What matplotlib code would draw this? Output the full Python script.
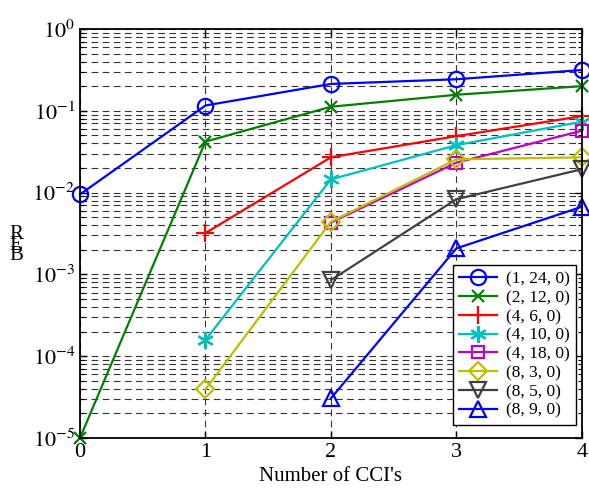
import numpy as np
import matplotlib
matplotlib.use("Agg")
import matplotlib.pyplot as plt
from matplotlib.ticker import LogLocator, FixedLocator

plt.rcParams["font.family"] = ["Liberation Serif", "DejaVu Serif"]
plt.rcParams["mathtext.fontset"] = "stix"

# BER values, one list per (L, N, x) configuration
x_1_24 = [0, 1, 2, 3, 4]
ber_1_24 = [0.0095, 0.116, 0.213, 0.243, 0.315]

x_2_12 = [0, 1, 2, 3, 4]
ber_2_12 = [1.0e-5, 0.042, 0.112, 0.157, 0.20]

x_4_6 = [1, 2, 3, 4]
ber_4_6 = [0.0032, 0.027, 0.049, 0.086]

x_4_10 = [1, 2, 3, 4]
ber_4_10 = [1.58e-4, 0.0145, 0.038, 0.0736]

x_4_18 = [2, 3, 4]
ber_4_18 = [0.0043, 0.0232, 0.057]

x_8_3 = [1, 2, 3, 4]
ber_8_3 = [3.94e-5, 0.0044, 0.0255, 0.027]

x_8_5 = [2, 3, 4]
ber_8_5 = [8.5e-4, 0.0083, 0.0193]

x_8_9 = [2, 3, 4]
ber_8_9 = [3.05e-5, 0.00208, 0.0067]

labels = ["(1, 24, 0)", "(2, 12, 0)", "(4, 6, 0)", "(4, 10, 0)",
          "(4, 18, 0)", "(8, 3, 0)", "(8, 5, 0)", "(8, 9, 0)"]
colors = ["#0000ff", "#008000", "#ff0000", "#00bfbf",
          "#bf00bf", "#bfbf00", "#404040", "#0000ff"]
markers = ["o", "x", "+", (6, 2, 0), "s", "D", "v", "^"]
sizes = [11, 8, 13, 12, 9, 9, 11, 11]

series = [(x_1_24, ber_1_24), (x_2_12, ber_2_12), (x_4_6, ber_4_6),
          (x_4_10, ber_4_10), (x_4_18, ber_4_18), (x_8_3, ber_8_3),
          (x_8_5, ber_8_5), (x_8_9, ber_8_9)]

fig = plt.figure(figsize=(5.89, 4.93), dpi=100)
ax = fig.add_axes([0.1358, 0.1116, 0.852, 0.8296])

for (xs, ys), lab, c, m, ms in zip(series, labels, colors, markers, sizes):
    ax.semilogy(xs, ys, color=c, marker=m, markersize=ms, linewidth=1.6,
                markerfacecolor="none", markeredgecolor=c,
                markeredgewidth=1.6, label=lab, clip_on=False, zorder=3)

ax.set_xlim(0, 4)
ax.set_ylim(1e-5, 1)
ax.set_xticks([0, 1, 2, 3, 4])
ax.yaxis.set_major_locator(FixedLocator([1e-5, 1e-4, 1e-3, 1e-2, 1e-1, 1]))
ax.yaxis.set_minor_locator(LogLocator(base=10, subs=np.arange(2, 10)))
ax.set_yticklabels([r"$10^{%d}$" % e for e in range(-5, 1)])
ax.yaxis.set_minor_formatter(plt.NullFormatter())

ax.tick_params(axis="both", which="both", direction="in",
               top=True, right=True, labelsize=16)
ax.tick_params(which="major", length=5, width=1)
ax.tick_params(which="minor", length=3, width=0.8)

ax.grid(True, which="both", axis="y", color="#333333",
        linestyle=(0, (6, 4)), linewidth=0.8)
ax.grid(True, which="major", axis="x", color="#333333",
        linestyle=(0, (6, 4)), linewidth=0.8)
for s in ax.spines.values():
    s.set_linewidth(1.3)
    s.set_zorder(4)

ax.set_xlabel("Number of CCI's", fontsize=15, labelpad=4)
fig.text(0.027, 0.503, "R\nE\nB", fontsize=15, ha="center", va="center",
         linespacing=0.38)

leg = ax.legend(loc="lower right", bbox_to_anchor=(0.988, 0.032),
                fontsize=12.5, frameon=True,
                fancybox=False, edgecolor="k", framealpha=1,
                borderpad=0.35, labelspacing=0.15, handlelength=2.2,
                handletextpad=0.5, borderaxespad=0)
leg.get_frame().set_linewidth(1.0)
leg.set_zorder(5)

fig.savefig("out.png", dpi=100)
